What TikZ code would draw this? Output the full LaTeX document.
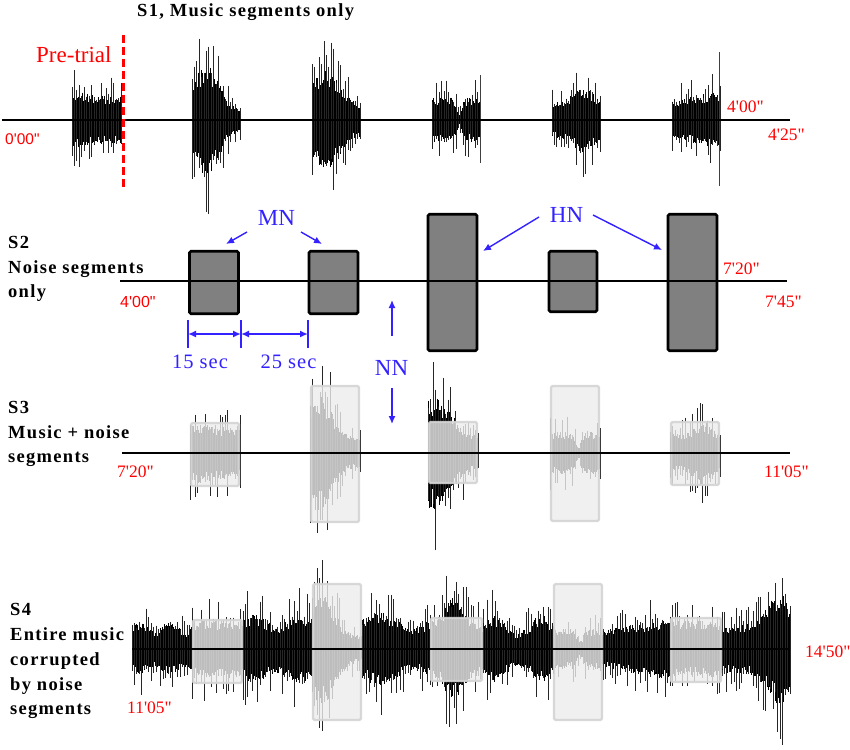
\documentclass[tikz,border=0pt]{standalone}
\usepackage{fontspec}
\usetikzlibrary{arrows.meta}
\newfontfamily\tnr{Liberation Serif}
\newfontfamily\tnrb{Liberation Serif}[LetterSpace=7]
\newfontfamily\ars{Liberation Sans}
\definecolor{myblue}{RGB}{51,34,255}
\definecolor{myred}{RGB}{255,0,0}
\newcommand\wav[5]{%
  \pgfmathtruncatemacro\wvn{(#2-#1)/0.9}%
  \foreach \wvi in {0,...,\wvn}{%
    \pgfmathsetmacro\wvx{#1+\wvi*(#2-#1)/\wvn}%
    \pgfmathsetmacro\wvt{\wvi/\wvn}%
    \pgfmathsetmacro\wve{#4*(#5)}%
    \pgfmathsetmacro\wvu{\wve*(0.36+0.2*rnd)}%
    \pgfmathsetmacro\wvd{\wve*(0.36+0.2*rnd)}%
    \draw[wv] (\wvx,#3-\wvu) -- (\wvx,#3+\wvd);
  }%
  \pgfmathtruncatemacro\wvm{(#2-#1)/2.4}%
  \foreach \wvi in {0,...,\wvm}{%
    \pgfmathsetmacro\wvx{#1+\wvi*(#2-#1)/\wvm}%
    \pgfmathsetmacro\wvt{\wvi/\wvm}%
    \pgfmathsetmacro\wve{#4*(#5)}%
    \pgfmathsetmacro\wvu{\wve*(0.45+0.55*rnd^2)}%
    \pgfmathsetmacro\wvd{\wve*(0.45+0.55*rnd^2)}%
    \draw[wvs] (\wvx,#3-\wvu) -- (\wvx,#3+\wvd);
  }}
\begin{document}
\begin{tikzpicture}[x=1pt,y=-1pt,
  wv/.style={line width=0.9pt,black},
  wvs/.style={line width=0.9pt,black!85},
  nbox/.style={draw=black,line width=2.6pt,fill=black!50,rounded corners=1.5pt,inner sep=0pt},
  lbox/.style={draw=black!17,draw opacity=0.9,line width=2.4pt,fill=black!7,fill opacity=0.8,rounded corners=1.5pt,inner sep=0pt},
  baseline/.style={line width=2.3pt,black},
  bl/.style={myblue,line width=1.4pt,-{Latex[length=8pt,width=7pt]}},
  dim/.style={myblue,line width=1.8pt,{Latex[length=8pt,width=7pt]}-{Latex[length=8pt,width=7pt]}},
  tick/.style={myblue,line width=1.8pt},
  slabel/.style={anchor=base west,inner sep=0pt,font=\tnrb\bfseries\fontsize{18.5}{20}\selectfont},
  tlab/.style={anchor=base west,inner sep=0pt,text=myred,font=\tnr\fontsize{17.5}{19}\selectfont},
  alab/.style={anchor=base west,inner sep=0pt,text=myred,font=\ars\fontsize{15.5}{18}\selectfont},
  blab/.style={anchor=base,inner sep=0pt,text=myblue,font=\tnr\fontsize{23}{25}\selectfont},
  secl/.style={anchor=base,inner sep=0pt,text=myblue,font=\tnr\addfontfeature{LetterSpace=5}\fontsize{20.5}{22}\selectfont}]
\fill[white] (0,0) rectangle (850,749);
\useasboundingbox (0,0) rectangle (850,749);
\pgfmathsetseed{4242}
% ---------- S1 ----------
\wav{72}{121}{120}{52}{0.85+0.15*exp(0-((\wvt-0.15)/0.2)^2)}
\wav{192}{240}{120}{102}{0.2+0.8*exp(0-((\wvt-0.3)/0.35)^2)}
\wav{312}{360}{120}{90}{0.3+0.7*exp(0-((\wvt-0.3)/0.4)^2)}
\wav{432}{480}{120}{40}{1-0.7*exp(0-((\wvt-0.57)/0.07)^2)}
\wav{552}{600}{120}{58}{0.55+0.45*exp(0-((\wvt-0.65)/0.3)^2)}
\wav{672}{720}{120}{52}{0.65+0.35*\wvt}
\coordinate (sp1a) at (480,75); \coordinate (sp1b) at (480,163);
\coordinate (sp2a) at (719.5,52); \coordinate (sp2b) at (719.5,186);
\draw[line width=0.8pt,black!75] (sp1a) -- (sp1b);
\draw[line width=0.8pt,black!75] (sp2a) -- (sp2b);
\coordinate (b1s) at (2,120); \coordinate (b1e) at (790,120);
\draw[baseline] (b1s) -- (b1e);
\coordinate (pt1) at (123,35); \coordinate (pt2) at (123,187);
\draw[myred,line width=3pt,dash pattern=on 8pt off 4pt] (pt1) -- (pt2);
\node[anchor=base west,inner sep=0pt,text=myred,font=\tnr\fontsize{23}{25}\selectfont] (pre) at (36,63) {Pre-trial};
\node[slabel] (t1) at (137,17) {S1, Music segments only};
\node[alab] (l0) at (5,144) {0'00"};
\node[tlab] (l1) at (727,112) {4'00"};
\node[tlab] (l2) at (768,140) {4'25"};
% ---------- S2 ----------
\node[nbox,minimum width=49pt,minimum height=62.5pt] (n1) at (214,282.5) {};
\node[nbox,minimum width=49pt,minimum height=62.5pt] (n2) at (333.5,282.5) {};
\node[nbox,minimum width=49pt,minimum height=136.5pt] (n3) at (452.5,282.5) {};
\node[nbox,minimum width=48pt,minimum height=60.5pt] (n4) at (573,281.5) {};
\node[nbox,minimum width=49pt,minimum height=136.5pt] (n5) at (692.5,282.5) {};
\coordinate (b2s) at (120,281); \coordinate (b2e) at (787,281);
\draw[line width=2pt,black] (b2s) -- (b2e);
\node[slabel] (s2a) at (8,248) {S2};
\node[slabel] (s2b) at (8,273) {Noise segments};
\node[slabel] (s2c) at (8,297) {only};
\node[alab,font=\ars\fontsize{16}{18}\selectfont] (l3) at (120,307) {4'00"};
\node[tlab] (l4) at (723,274) {7'20"};
\node[tlab] (l5) at (765,307) {7'45"};
\node[blab] (mn) at (276.5,225) {MN};
\node[blab] (hn) at (566.5,222) {HN};
\node[blab] (nn) at (391.5,375) {NN};
\coordinate (mnl0) at (247,232); \coordinate (mnl1) at (226,244);
\coordinate (mnr0) at (301,232); \coordinate (mnr1) at (322,244);
\coordinate (hnl0) at (539,217); \coordinate (hnl1) at (483,251);
\coordinate (hnr0) at (593,215); \coordinate (hnr1) at (662,250);
\coordinate (nnu0) at (392,336); \coordinate (nnu1) at (392,300);
\coordinate (nnd0) at (392,388); \coordinate (nnd1) at (392,424);
\draw[bl] (mnl0) -- (mnl1);
\draw[bl] (mnr0) -- (mnr1);
\draw[bl] (hnl0) -- (hnl1);
\draw[bl] (hnr0) -- (hnr1);
\draw[bl] (nnu0) -- (nnu1);
\draw[bl] (nnd0) -- (nnd1);
\coordinate (k1a) at (188,320); \coordinate (k1b) at (188,348);
\coordinate (k2a) at (241,320); \coordinate (k2b) at (241,348);
\coordinate (k3a) at (308,320); \coordinate (k3b) at (308,348);
\draw[tick] (k1a) -- (k1b);
\draw[tick] (k2a) -- (k2b);
\draw[tick] (k3a) -- (k3b);
\coordinate (d1) at (188,334); \coordinate (d2) at (241,334); \coordinate (d3) at (308,334);
\draw[dim] (d1) -- (d2);
\draw[dim] (d2) -- (d3);
\node[secl] (sec15) at (200,368) {15 sec};
\node[secl] (sec25) at (288.5,368) {25 sec};
% ---------- S3 ----------
\wav{190}{240}{453}{55}{0.85+0.15*exp(0-((\wvt-0.2)/0.2)^2)}
\wav{310}{360}{453}{105}{0.25+0.75*exp(0-((\wvt-0.2)/0.35)^2)}
\wav{428}{478}{453}{100}{0.3+0.7*exp(0-((\wvt-0.1)/0.5)^2)}
\wav{550}{600}{453}{38}{1-0.7*exp(0-((\wvt-0.57)/0.07)^2)}
\wav{670}{720}{453}{58}{0.6+0.4*exp(0-((\wvt-0.65)/0.2)^2)}
\node[lbox,minimum width=48pt,minimum height=63pt] (m1) at (215,454.5) {};
\node[lbox,minimum width=48pt,minimum height=136pt] (m2) at (335,454) {};
\node[lbox,minimum width=48pt,minimum height=61pt] (m3) at (453,452.5) {};
\node[lbox,minimum width=48pt,minimum height=135pt] (m4) at (575,453.5) {};
\node[lbox,minimum width=48pt,minimum height=63pt] (m5) at (695,453.5) {};
\coordinate (b3s) at (122,453); \coordinate (b3e) at (790,453);
\draw[baseline] (b3s) -- (b3e);
\node[slabel] (s3a) at (8,413) {S3};
\node[slabel] (s3b) at (8,438) {Music + noise};
\node[slabel] (s3c) at (8,462) {segments};
\node[tlab] (l6) at (117,477) {7'20"};
\node[tlab] (l7) at (764,477) {11'05"};
% ---------- S4 ----------
\wav{132}{192}{649}{48}{0.85+0.15*sin(\wvt*720)}
\wav{192}{243}{649}{52}{1}
\wav{243}{312}{649}{62}{0.85+0.15*sin(\wvt*540)}
\wav{312}{362}{649}{98}{0.25+0.75*exp(0-((\wvt-0.2)/0.35)^2)}
\wav{362}{430}{649}{66}{0.8+0.2*sin(\wvt*360)}
\wav{430}{483}{649}{92}{0.5+0.5*exp(0-((\wvt-0.45)/0.25)^2)}
\wav{483}{553}{649}{60}{0.75+0.25*sin(\wvt*540)}
\wav{553}{603}{649}{36}{1-0.6*exp(0-((\wvt-0.55)/0.08)^2)}
\wav{603}{670}{649}{56}{0.6+0.4*\wvt}
\wav{670}{722}{649}{56}{0.9}
\wav{722}{790}{649}{98}{0.45+0.55*exp(0-((\wvt-0.85)/0.25)^2)}
\node[lbox,minimum width=49pt,minimum height=63pt] (q1) at (217.5,651.5) {};
\node[lbox,minimum width=48pt,minimum height=136pt] (q2) at (337,652) {};
\node[lbox,minimum width=51pt,minimum height=63pt] (q3) at (456.5,649.5) {};
\node[lbox,minimum width=48pt,minimum height=136pt] (q4) at (578,652) {};
\node[lbox,minimum width=50pt,minimum height=64pt] (q5) at (696,650) {};
\coordinate (b4s) at (132,649); \coordinate (b4e) at (790,649);
\draw[baseline] (b4s) -- (b4e);
\node[slabel] (s4a) at (10,615) {S4};
\node[slabel] (s4b) at (10,640) {Entire music};
\node[slabel] (s4c) at (10,665) {corrupted};
\node[slabel] (s4d) at (10,690) {by noise};
\node[slabel] (s4e) at (10,714) {segments};
\node[tlab] (l8) at (127,713) {11'05"};
\node[tlab] (l9) at (805,657) {14'50"};
\end{tikzpicture}
\end{document}
